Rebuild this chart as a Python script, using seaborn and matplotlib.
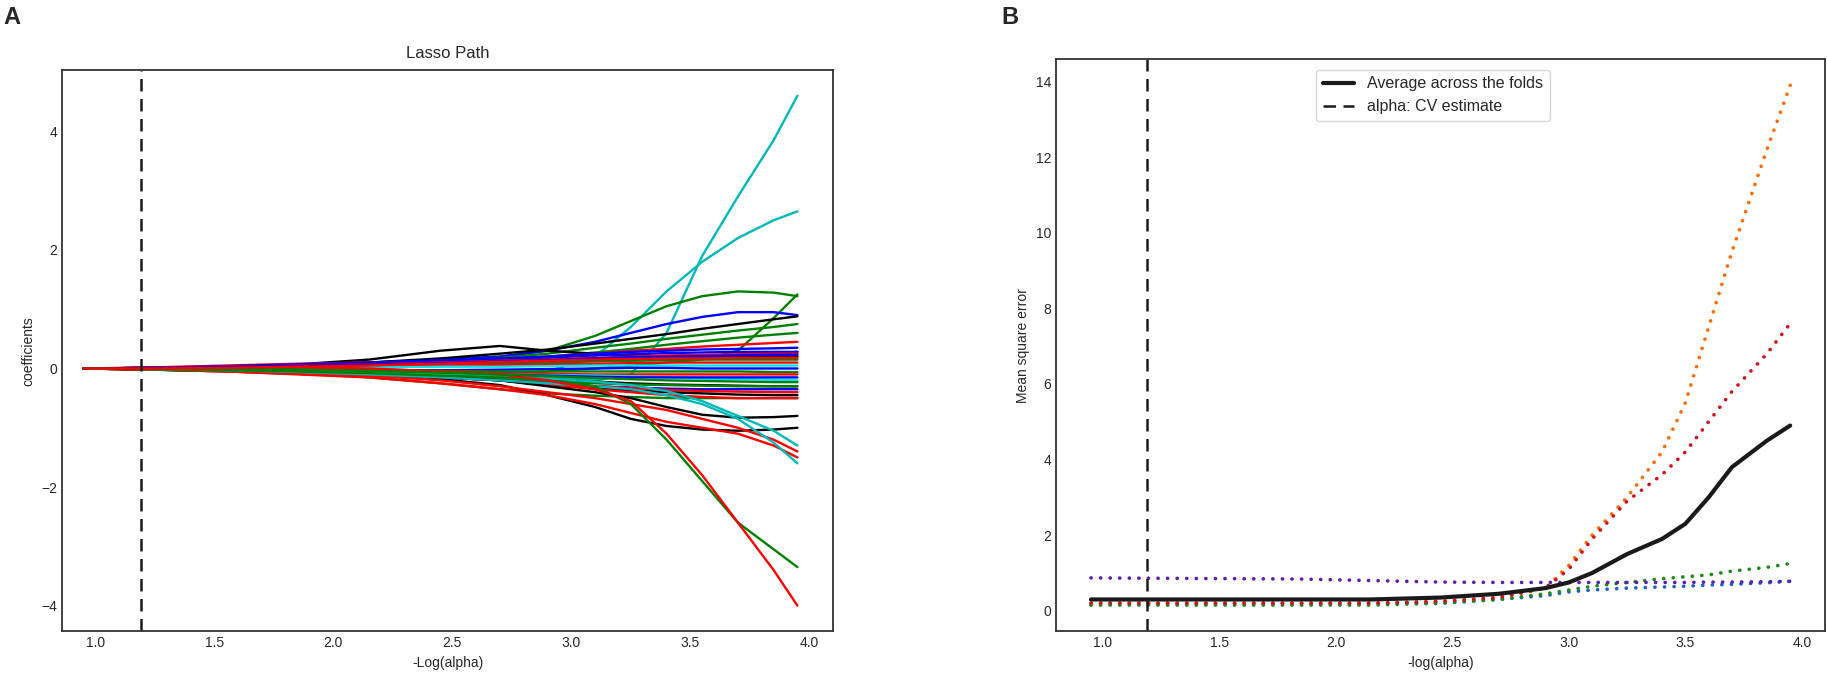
import numpy as np
import pandas as pd
import matplotlib.pyplot as plt
import seaborn as sns

sns.set_theme(style="white")
plt.rcParams['font.family'] = ['Liberation Sans', 'DejaVu Sans']

# ---- data: lasso coefficient paths (panel A) ----
neg_log_alpha = [0.95, 1.25, 1.55, 1.85, 2.15, 2.45, 2.7, 2.9, 3.1, 3.25, 3.4, 3.55, 3.7, 3.85, 3.95]

path_colors = []
path_values = []

def add_path(color, vals):
    path_colors.append(color)
    path_values.append(vals)

add_path('c', [0, 0, 0, -0.02, -0.05, -0.08, -0.1, -0.15, -0.2, -0.1, 0.6, 1.9, 2.9, 3.85, 4.6])
add_path('c', [0, 0, 0.01, 0.02, 0.0, -0.05, -0.1, -0.05, 0.2, 0.7, 1.3, 1.8, 2.2, 2.5, 2.65])
add_path('g', [0, 0.01, 0.03, 0.06, 0.1, 0.15, 0.2, 0.3, 0.55, 0.8, 1.05, 1.22, 1.3, 1.28, 1.22])
add_path('g', [0, 0, -0.02, -0.05, -0.1, -0.12, -0.1, -0.05, 0.0, 0.05, 0.1, 0.15, 0.3, 0.85, 1.25])
add_path('b', [0, 0.01, 0.03, 0.06, 0.1, 0.15, 0.2, 0.3, 0.45, 0.6, 0.75, 0.87, 0.95, 0.95, 0.9])
add_path('k', [0, 0.01, 0.03, 0.06, 0.1, 0.17, 0.25, 0.32, 0.42, 0.5, 0.58, 0.67, 0.75, 0.83, 0.88])
add_path('g', [0, 0.01, 0.02, 0.04, 0.07, 0.12, 0.18, 0.25, 0.35, 0.42, 0.5, 0.57, 0.64, 0.7, 0.75])
add_path('g', [0, 0.01, 0.02, 0.04, 0.07, 0.11, 0.15, 0.2, 0.27, 0.33, 0.4, 0.46, 0.52, 0.57, 0.6])
add_path('k', [0, 0.01, 0.03, 0.07, 0.15, 0.3, 0.38, 0.3, 0.25, 0.22, 0.2, 0.2, 0.22, 0.25, 0.28])
add_path('r', [0, 0.02, 0.05, 0.08, 0.1, 0.13, 0.16, 0.2, 0.25, 0.3, 0.33, 0.37, 0.4, 0.43, 0.45])
add_path('b', [0, 0.01, 0.04, 0.07, 0.1, 0.14, 0.17, 0.2, 0.25, 0.28, 0.3, 0.32, 0.33, 0.34, 0.35])
add_path('b', [0, 0.01, 0.03, 0.05, 0.08, 0.12, 0.15, 0.18, 0.22, 0.24, 0.26, 0.27, 0.28, 0.28, 0.28])
add_path('r', [0, 0.01, 0.03, 0.05, 0.07, 0.1, 0.13, 0.15, 0.18, 0.2, 0.22, 0.23, 0.24, 0.25, 0.25])
add_path('k', [0, 0.0, 0.02, 0.04, 0.06, 0.08, 0.1, 0.12, 0.14, 0.16, 0.17, 0.18, 0.19, 0.2, 0.2])
add_path('g', [0, 0, 0.01, 0.03, 0.05, 0.07, 0.09, 0.1, 0.12, 0.13, 0.14, 0.15, 0.15, 0.15, 0.15])
add_path('r', [0, 0, 0.01, 0.02, 0.04, 0.05, 0.06, 0.07, 0.08, 0.09, 0.1, 0.1, 0.1, 0.1, 0.1])
add_path('aqua', [0, 0, 0, 0.01, 0.02, 0.03, 0.03, 0.04, 0.05, 0.05, 0.05, 0.05, 0.05, 0.05, 0.05])
add_path('b', [0, 0, -0.01, -0.02, -0.03, -0.03, -0.02, -0.01, 0, 0.01, 0.01, 0.0, 0.0, 0.0, 0.0])
add_path('g', [0, 0, -0.01, -0.02, -0.03, -0.04, -0.05, -0.05, -0.05, -0.05, -0.05, -0.05, -0.05, -0.06, -0.06])
add_path('r', [0, -0.01, -0.02, -0.03, -0.05, -0.06, -0.08, -0.09, -0.1, -0.1, -0.1, -0.1, -0.1, -0.1, -0.1])
add_path('aqua', [0, -0.01, -0.02, -0.04, -0.06, -0.08, -0.1, -0.11, -0.12, -0.13, -0.15, -0.17, -0.18, -0.19, -0.2])
add_path('b', [0, -0.01, -0.02, -0.04, -0.06, -0.08, -0.1, -0.12, -0.14, -0.15, -0.15, -0.15, -0.15, -0.15, -0.15])
add_path('k', [0, -0.01, -0.03, -0.05, -0.08, -0.12, -0.15, -0.18, -0.22, -0.25, -0.27, -0.28, -0.29, -0.3, -0.3])
add_path('g', [0, -0.02, -0.04, -0.07, -0.1, -0.14, -0.18, -0.22, -0.25, -0.27, -0.28, -0.29, -0.3, -0.3, -0.3])
add_path('b', [0, -0.01, -0.03, -0.06, -0.1, -0.15, -0.2, -0.25, -0.3, -0.32, -0.34, -0.35, -0.35, -0.35, -0.35])
add_path('r', [0, -0.01, -0.03, -0.06, -0.1, -0.15, -0.2, -0.25, -0.3, -0.33, -0.36, -0.38, -0.39, -0.4, -0.4])
add_path('k', [0, -0.02, -0.04, -0.07, -0.1, -0.15, -0.2, -0.28, -0.33, -0.37, -0.4, -0.42, -0.44, -0.45, -0.45])
add_path('g', [0, -0.02, -0.05, -0.09, -0.15, -0.25, -0.35, -0.42, -0.46, -0.48, -0.5, -0.5, -0.5, -0.5, -0.5])
add_path('r', [0, -0.01, -0.03, -0.05, -0.09, -0.14, -0.2, -0.27, -0.35, -0.4, -0.45, -0.48, -0.5, -0.5, -0.5])
add_path('k', [0, -0.01, -0.02, -0.04, -0.07, -0.12, -0.2, -0.3, -0.4, -0.5, -0.65, -0.78, -0.83, -0.82, -0.8])
add_path('k', [0, -0.02, -0.04, -0.06, -0.1, -0.18, -0.28, -0.45, -0.65, -0.85, -0.97, -1.03, -1.05, -1.03, -1.0])
add_path('r', [0, -0.02, -0.05, -0.1, -0.15, -0.25, -0.35, -0.45, -0.6, -0.75, -0.9, -1.0, -1.1, -1.3, -1.5])
add_path('r', [0, -0.02, -0.05, -0.08, -0.12, -0.2, -0.3, -0.4, -0.5, -0.6, -0.7, -0.85, -1.0, -1.2, -1.4])
add_path('c', [0, -0.01, -0.03, -0.06, -0.1, -0.15, -0.2, -0.25, -0.3, -0.35, -0.45, -0.6, -0.85, -1.25, -1.6])
add_path('c', [0, -0.01, -0.02, -0.04, -0.07, -0.1, -0.13, -0.17, -0.22, -0.28, -0.38, -0.55, -0.8, -1.05, -1.3])
add_path('g', [0, -0.01, -0.03, -0.05, -0.08, -0.12, -0.15, -0.2, -0.3, -0.6, -1.2, -1.9, -2.6, -3.05, -3.35])
add_path('r', [0, 0.01, 0.02, 0.02, 0.0, -0.05, -0.1, -0.2, -0.35, -0.55, -1.1, -1.8, -2.6, -3.4, -4.0])
add_path('b', [0, 0.01, 0.02, 0.04, 0.06, 0.09, 0.12, 0.14, 0.17, 0.19, 0.2, 0.21, 0.22, 0.23, 0.23])
add_path('g', [0, -0.01, -0.01, -0.02, -0.04, -0.07, -0.1, -0.13, -0.16, -0.18, -0.2, -0.21, -0.22, -0.23, -0.23])
add_path('r', [0, 0.0, 0.01, 0.03, 0.05, 0.08, 0.11, 0.13, 0.15, 0.16, 0.17, 0.17, 0.18, 0.18, 0.18])

# ---- data: cross-validation MSE (panel B) ----
cv_x = [0.95, 1.25, 1.55, 1.85, 2.15, 2.45, 2.7, 2.9, 3.0, 3.1, 3.25, 3.4, 3.5, 3.6, 3.7, 3.85, 3.95]
mse_mean = [0.3, 0.3, 0.3, 0.3, 0.3, 0.35, 0.45, 0.6, 0.75, 1.0, 1.5, 1.9, 2.3, 3.0, 3.8, 4.5, 4.9]
fold_orange = [0.2, 0.2, 0.2, 0.2, 0.2, 0.25, 0.35, 0.6, 1.2, 2.0, 3.0, 4.2, 5.5, 7.5, 9.5, 12.2, 13.9]
fold_red = [0.2, 0.2, 0.2, 0.2, 0.2, 0.25, 0.35, 0.6, 1.1, 1.9, 2.9, 3.6, 4.2, 5.0, 5.8, 6.8, 7.6]
fold_purple = [0.87, 0.86, 0.85, 0.84, 0.8, 0.76, 0.75, 0.75, 0.75, 0.75, 0.75, 0.75, 0.75, 0.76, 0.76, 0.77, 0.78]
fold_green = [0.15, 0.15, 0.15, 0.15, 0.15, 0.2, 0.3, 0.45, 0.55, 0.65, 0.75, 0.85, 0.9, 0.95, 1.05, 1.15, 1.25]
fold_blue = [0.2, 0.2, 0.2, 0.2, 0.2, 0.2, 0.3, 0.4, 0.5, 0.55, 0.6, 0.63, 0.65, 0.68, 0.7, 0.74, 0.78]
alpha_cv = 1.19

fold_series = [fold_blue, fold_orange, fold_green, fold_red, fold_purple]
fold_colors = ['#1f5fd0', '#ff6a00', '#1a8a1a', '#d0101a', '#5a1fb0']

classic = {'b': (0, 0, 1), 'g': (0, 0.5, 0), 'r': (1, 0, 0), 'c': (0, 0.72, 0.72),
           'k': (0, 0, 0), 'aqua': (0, 0.9, 0.9)}

path_df = pd.DataFrame({
    'x': np.tile(neg_log_alpha, len(path_values)),
    'coef': np.concatenate(path_values),
    'path': np.repeat(np.arange(len(path_values)), len(neg_log_alpha)),
})
palette = {i: classic[c] for i, c in enumerate(path_colors)}

fig = plt.figure(figsize=(18.27, 6.89), dpi=100)
ax1 = fig.add_axes([0.034, 0.084, 0.422, 0.814])
ax2 = fig.add_axes([0.578, 0.084, 0.421, 0.830])

sns.lineplot(data=path_df, x='x', y='coef', hue='path', palette=palette,
             legend=False, linewidth=1.7, ax=ax1, estimator=None)
ax1.axvline(alpha_cv, color='k', linestyle=(0, (5, 3)), linewidth=1.8)
ax1.set_xlim(0.86, 4.10)
ax1.set_yticks([-4, -2, 0, 2, 4])
ax1.set_title('Lasso Path', fontsize=12, pad=9)
ax1.set_xlabel('-Log(alpha)', fontsize=10)
ax1.set_ylabel('coefficients', fontsize=10)

# dotted fold curves: tiny dashes with round caps render as dots
dotted = (0, (0.05, 2.6))
for vals, col in zip(fold_series, fold_colors):
    sns.lineplot(x=cv_x, y=vals, color=col, linestyle=dotted, linewidth=2.6,
                 dash_capstyle='round', ax=ax2)
sns.lineplot(x=cv_x, y=mse_mean, color='k', linewidth=3, ax=ax2,
             label='Average across the folds')
ax2.axvline(alpha_cv, color='k', linestyle=(0, (5, 3)), linewidth=1.8,
            label='alpha: CV estimate')
ax2.set_yticks(range(0, 15, 2))
ax2.set_xlabel('-log(alpha)', fontsize=10)
ax2.set_ylabel('Mean square error', fontsize=10)
ax2.legend(loc='upper center', bbox_to_anchor=(0.49, 0.995), fontsize=11.5,
           frameon=True, edgecolor='#cccccc', handlelength=2.0)

for ax in (ax1, ax2):
    ax.tick_params(labelsize=10, length=0)
    for s in ax.spines.values():
        s.set_color('#333333')
        s.set_linewidth(1.3)
    ax.set_xticks([1.0, 1.5, 2.0, 2.5, 3.0, 3.5, 4.0])

fig.text(0.002, 0.975, 'A', fontsize=17, fontweight='bold', va='center')
fig.text(0.548, 0.975, 'B', fontsize=17, fontweight='bold', va='center')

fig.savefig('out.png', dpi=100)
